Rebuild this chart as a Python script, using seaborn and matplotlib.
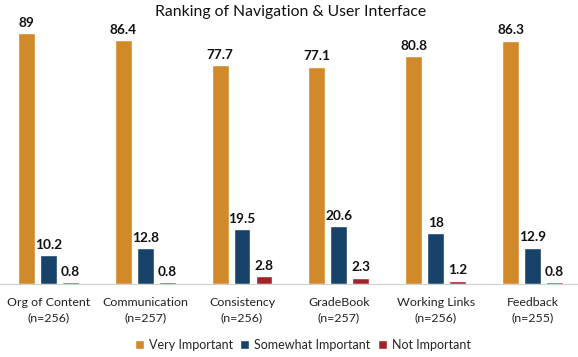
import matplotlib
matplotlib.use("Agg")
import matplotlib.pyplot as plt
import seaborn as sns
import pandas as pd

categories = ["Org of Content\n(n=256)", "Communication\n(n=257)", "Consistency\n(n=256)",
              "GradeBook\n(n=257)", "Working Links\n(n=256)", "Feedback\n(n=255)"]
very_important = [89, 86.4, 77.7, 77.1, 80.8, 86.3]
somewhat_important = [10.2, 12.8, 19.5, 20.6, 18, 12.9]
not_important = [0.8, 0.8, 2.8, 2.3, 1.2, 0.8]
series = ["Very Important", "Somewhat Important", "Not Important"]
colors = ["#D1892A", "#174269", "#A3232B"]

rows = []
for name, vals in zip(series, [very_important, somewhat_important, not_important]):
    for c, v in zip(categories, vals):
        rows.append({"cat": c, "series": name, "value": v})
df = pd.DataFrame(rows)

sns.set_style("white")
plt.rcParams['font.family'] = ['Lato', 'DejaVu Sans']

fig = plt.figure(figsize=(5.78, 3.57), dpi=100)
ax = fig.add_axes([0, (357 - 284) / 357, 1, 282 / 357])
sns.barplot(data=df, x="cat", y="value", hue="series", palette=colors,
            width=0.68, gap=0.23, saturation=1, ax=ax, legend=True)
ax.set_ylim(0, 100)
ax.set_xlim(-0.5, 5.47)
for cont in ax.containers:
    ax.bar_label(cont, labels=[f"{v:g}" for v in cont.datavalues], padding=3,
                 fontsize=9.8, fontweight="bold", color="#111111")
ax.set_xlabel("")
ax.set_ylabel("")
ax.set_yticks([])
for s in ["top", "left", "right"]:
    ax.spines[s].set_visible(False)
ax.spines["bottom"].set_color("#D0D0D0")
ax.tick_params(axis="x", length=0, labelsize=8.9, colors="#222222", pad=9)
for lbl in ax.get_xticklabels():
    lbl.set_linespacing(1.55)
handles, labels = ax.get_legend_handles_labels()
ax.get_legend().remove()
fig.legend(handles, labels, loc="center", bbox_to_anchor=(0.524, 1 - 345 / 357), ncol=3,
           frameon=False, fontsize=9, handlelength=0.7, handleheight=0.7,
           handletextpad=0.4, columnspacing=0.6, borderaxespad=0, borderpad=0)
fig.text(0.502, 1 - 12 / 357, "Ranking of Navigation & User Interface", ha="center", va="center",
         fontsize=11.3, color="#111111")
fig.savefig("out.png", dpi=100)
